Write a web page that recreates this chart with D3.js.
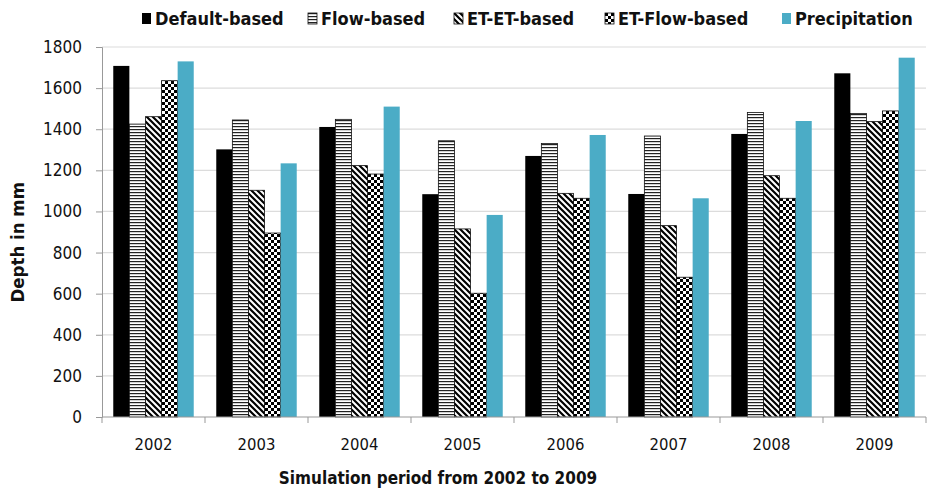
<!DOCTYPE html>
<html>
<head>
<meta charset="utf-8">
<script src="https://cdn.jsdelivr.net/npm/d3@7"></script>
<style>
  html, body { margin: 0; padding: 0; background: #fff; }
  svg { display: block; }
  text { font-family: "DejaVu Sans Condensed", "DejaVu Sans", sans-serif; fill: #111; }
</style>
</head>
<body>
<svg id="chart" width="927" height="489"></svg>
<script>
// Annual depths (mm) by simulation approach, 2002–2009
const years = ["2002", "2003", "2004", "2005", "2006", "2007", "2008", "2009"];
const seriesNames = ["Default-based", "Flow-based", "ET-ET-based", "ET-Flow-based", "Precipitation"];
const defaultBased = [1708, 1302, 1411, 1084, 1270, 1085, 1377, 1672];
const flowBased    = [1425, 1445, 1448, 1344, 1331, 1367, 1481, 1477];
const etEtBased    = [1461, 1103, 1223, 915, 1088, 931, 1174, 1437];
const etFlowBased  = [1636, 895, 1182, 602, 1064, 680, 1064, 1489];
const precipitation = [1730, 1234, 1510, 983, 1372, 1064, 1440, 1748];
const yTicks = [0, 200, 400, 600, 800, 1000, 1200, 1400, 1600, 1800];

const seriesValues = [defaultBased, flowBased, etEtBased, etFlowBased, precipitation];
const fills = ["#000", "url(#pat-hlines)", "url(#pat-diag)", "url(#pat-check)", "#4bacc6"];
const strokes = ["none", "#111", "#111", "#111", "none"];

const svg = d3.select("#chart");
const margin = { left: 102, right: 1, top: 47, bottom: 72 };
const W = 927, H = 489;

// Fill patterns for the hatched series
const defs = svg.append("defs");
const ph = defs.append("pattern").attr("id", "pat-hlines").attr("patternUnits", "userSpaceOnUse")
  .attr("width", 4).attr("height", 3);
ph.append("rect").attr("width", 4).attr("height", 3).attr("fill", "#fff");
ph.append("rect").attr("y", 0).attr("width", 4).attr("height", 1.2).attr("fill", "#222");

const pd = defs.append("pattern").attr("id", "pat-diag").attr("patternUnits", "userSpaceOnUse")
  .attr("width", 6).attr("height", 6);
pd.append("rect").attr("width", 6).attr("height", 6).attr("fill", "#fff");
pd.append("path").attr("d", "M-1,-1 L7,7 M-1,5 L1,7 M5,-1 L7,1")
  .attr("stroke", "#000").attr("stroke-width", 2.2);

const pc = defs.append("pattern").attr("id", "pat-check").attr("patternUnits", "userSpaceOnUse")
  .attr("width", 6).attr("height", 6);
pc.append("rect").attr("width", 6).attr("height", 6).attr("fill", "#fff");
pc.append("rect").attr("x", 0).attr("y", 0).attr("width", 3).attr("height", 3).attr("fill", "#000");
pc.append("rect").attr("x", 3).attr("y", 3).attr("width", 3).attr("height", 3).attr("fill", "#000");

const x0 = d3.scaleBand().domain(years).range([margin.left, W - margin.right]).paddingInner(0).paddingOuter(0);
const x1 = d3.scaleBand().domain(seriesNames).range([0, x0.bandwidth()]).paddingOuter(0.7).paddingInner(0);
const y = d3.scaleLinear().domain([0, 1800]).range([H - margin.bottom, margin.top]);

// Horizontal gridlines
svg.append("g").selectAll("line").data(yTicks.filter(d => d > 0)).join("line")
  .attr("x1", margin.left).attr("x2", W - margin.right)
  .attr("y1", d => y(d)).attr("y2", d => y(d))
  .attr("stroke", "#dcdcdc").attr("stroke-width", 1.2);

// Bars
const groups = svg.append("g").selectAll("g").data(years).join("g")
  .attr("transform", d => `translate(${x0(d)},0)`);
groups.selectAll("rect").data((yr, i) => seriesNames.map((s, k) => ({ s, k, v: seriesValues[k][i] })))
  .join("rect")
  .attr("x", d => x1(d.s))
  .attr("y", d => y(d.v))
  .attr("width", x1.bandwidth())
  .attr("height", d => y(0) - y(d.v))
  .attr("fill", d => fills[d.k])
  .attr("stroke", d => strokes[d.k])
  .attr("stroke-width", 0.8);

// Y axis
const yAxis = svg.append("g").attr("transform", `translate(${margin.left},0)`)
  .call(d3.axisLeft(y).tickValues(yTicks).tickFormat(d3.format("d")).tickSize(6).tickPadding(14));
yAxis.select(".domain").attr("stroke", "#999");
yAxis.selectAll(".tick line").attr("stroke", "#999");
yAxis.selectAll("text").attr("font-size", 17).attr("font-family", "'DejaVu Sans', sans-serif").attr("fill", "#111");

// X axis with ticks at category boundaries
const xAxisG = svg.append("g").attr("transform", `translate(0,${y(0)})`);
xAxisG.append("line").attr("x1", margin.left).attr("x2", W - margin.right)
  .attr("stroke", "#999");
xAxisG.selectAll("line.tk").data(years.concat(["end"])).join("line").attr("class", "tk")
  .attr("x1", (d, i) => margin.left + i * x0.step()).attr("x2", (d, i) => margin.left + i * x0.step())
  .attr("y1", 0).attr("y2", 6).attr("stroke", "#999");
xAxisG.selectAll("text").data(years).join("text")
  .attr("x", d => x0(d) + x0.bandwidth() / 2).attr("y", 33)
  .attr("text-anchor", "middle").attr("font-size", 16.5)
  .attr("font-family", "'DejaVu Sans', sans-serif").text(d => d);

// Axis titles
svg.append("text").attr("transform", `translate(24,${y(850)}) rotate(-90)`)
  .attr("text-anchor", "middle").attr("font-size", 18.5).attr("font-weight", "bold").text("Depth in mm");
svg.append("text").attr("x", 438).attr("y", 484)
  .attr("text-anchor", "middle").attr("font-size", 17).attr("font-weight", "bold").text("Simulation period from 2002 to 2009");

// Legend
const legendX = [142, 308, 454, 605, 782];
const lg = svg.append("g").selectAll("g").data(seriesNames).join("g")
  .attr("transform", (d, i) => `translate(${legendX[i]},19)`);
lg.append("rect").attr("x", 0).attr("y", -6).attr("width", 9).attr("height", 11)
  .attr("fill", (d, i) => fills[i]).attr("stroke", (d, i) => strokes[i]).attr("stroke-width", 0.8);
lg.append("text").attr("x", 13).attr("y", 6).attr("font-size", 18).attr("font-weight", "bold").text(d => d);
</script>
</body>
</html>
